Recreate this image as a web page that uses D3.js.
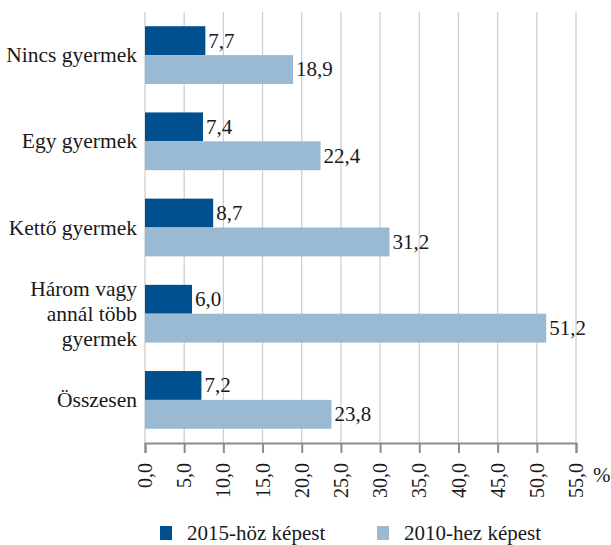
<!DOCTYPE html>
<html>
<head>
<meta charset="utf-8">
<script src="https://cdn.jsdelivr.net/npm/d3@7/dist/d3.min.js"></script>
</head>
<body style="margin:0;background:#fff">
<svg id="chart" width="611" height="545"></svg>
<script>
// Categories (multi-line labels split by "\n")
const categories = [
  "Nincs gyermek",
  "Egy gyermek",
  "Kettő gyermek",
  "Három vagy\nannál több\ngyermek",
  "Összesen"
];
const seriesNames = ["2015-höz képest", "2010-hez képest"];
const values2015 = [7.7, 7.4, 8.7, 6.0, 7.2];
const values2010 = [18.9, 22.4, 31.2, 51.2, 23.8];
const xTicks = [0, 5, 10, 15, 20, 25, 30, 35, 40, 45, 50, 55];
const colors = ["#00508f", "#9abad3"];

const FONT = "'Liberation Serif', 'Times New Roman', serif";
const TXT = "#1a1a1a";
const FS = 21;

const svg = d3.select("#chart");
const fmt = v => v.toFixed(1).replace(".", ",");

const x = d3.scaleLinear().domain([0, 55]).range([145, 576]);
const y = d3.scaleBand().domain(categories).range([12, 443]).paddingInner(0.33).paddingOuter(0.165);
const sub = d3.scaleBand().domain([0, 1]).range([0, y.bandwidth()]);

// Vertical gridlines
svg.append("g")
  .selectAll("line")
  .data(xTicks)
  .join("line")
  .attr("x1", d => x(d)).attr("x2", d => x(d))
  .attr("y1", 12).attr("y2", 443)
  .attr("stroke", "#cccccc")
  .attr("stroke-width", 1.2);

// Bars
const groups = svg.append("g").selectAll("g")
  .data(categories.map((c, i) => ({ c, vals: [values2015[i], values2010[i]] })))
  .join("g")
  .attr("transform", d => `translate(0,${y(d.c)})`);

groups.selectAll("rect")
  .data(d => d.vals.map((v, k) => ({ v, k })))
  .join("rect")
  .attr("x", x(0))
  .attr("y", d => sub(d.k))
  .attr("width", d => x(d.v) - x(0))
  .attr("height", sub.bandwidth())
  .attr("fill", d => colors[d.k]);

groups.selectAll("text.val")
  .data(d => d.vals.map((v, k) => ({ v, k })))
  .join("text")
  .attr("class", "val")
  .attr("x", d => x(d.v) + 3)
  .attr("y", d => sub(d.k) + sub.bandwidth() / 2)
  .attr("dy", "0.33em")
  .style("font-family", FONT)
  .style("font-size", FS + "px")
  .attr("fill", TXT)
  .text(d => fmt(d.v));

// Category labels
const lineH = 25;
svg.append("g").selectAll("text")
  .data(categories)
  .join("text")
  .attr("text-anchor", "end")
  .style("font-family", FONT)
  .style("font-size", "21.5px")
  .attr("fill", TXT)
  .each(function (c) {
    const lines = c.split("\n");
    const cy = y(c) + y.bandwidth() / 2;
    const t = d3.select(this);
    lines.forEach((ln, i) => {
      t.append("tspan")
        .attr("x", 137)
        .attr("y", cy + (i - (lines.length - 1) / 2) * lineH)
        .attr("dy", "0.33em")
        .text(ln);
    });
  });

// X axis
const axis = d3.axisBottom(x).tickValues(xTicks).tickSize(10).tickFormat(fmt);
const gx = svg.append("g").attr("transform", "translate(0,443)").call(axis);
gx.attr("font-family", null).attr("font-size", null);
gx.select(".domain").attr("stroke", "#8c8c8c").attr("stroke-width", 2);
gx.selectAll(".tick line").attr("stroke", "#8c8c8c").attr("stroke-width", 2);
gx.selectAll(".tick text")
  .style("font-family", FONT)
  .style("font-size", "20px")
  .attr("fill", TXT)
  .attr("transform", "rotate(-90)")
  .attr("text-anchor", "end")
  .attr("x", -20)
  .attr("y", 0)
  .attr("dy", "0.33em");

svg.append("text")
  .attr("x", 593).attr("y", 475)
  .attr("dy", "0.33em")
  .style("font-family", FONT)
  .style("font-size", FS + "px")
  .attr("fill", TXT)
  .text("%");

// Legend
const legendX = [160, 377];
const lg = svg.append("g").selectAll("g")
  .data(seriesNames)
  .join("g")
  .attr("transform", (d, i) => `translate(${legendX[i]},526)`);
lg.append("rect").attr("width", 12).attr("height", 14).attr("fill", (d, i) => colors[i]);
lg.append("text").attr("x", 27).attr("y", 7).attr("dy", "0.33em")
  .style("font-family", FONT).style("font-size", FS + "px").attr("fill", TXT)
  .text(d => d);
</script>
</body>
</html>
